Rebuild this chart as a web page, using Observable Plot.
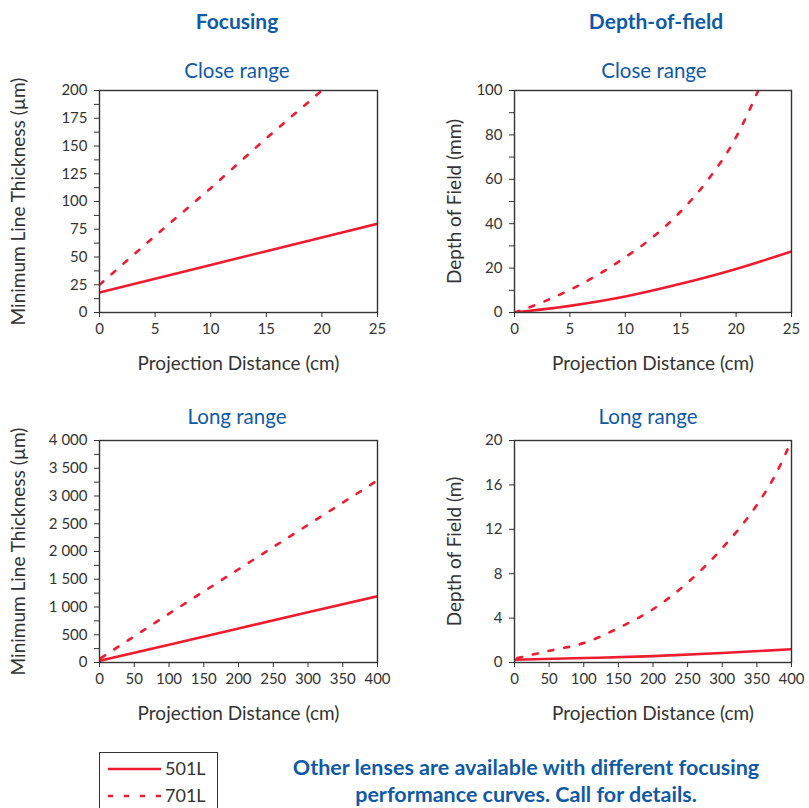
<!DOCTYPE html>
<html>
<head>
<meta charset="utf-8">
<script src="https://cdn.jsdelivr.net/npm/d3@7"></script>
<script src="https://cdn.jsdelivr.net/npm/@observablehq/plot@0.6"></script>
<style>
  html, body { margin: 0; padding: 0; background: #fff; }
  #root { position: relative; width: 809px; height: 808px; overflow: hidden; font-family: Lato, "Open Sans", sans-serif; }
  .panel { position: absolute; }
  .t { position: absolute; color: #0f5aa6; white-space: nowrap; transform: translate(-50%, -50%); }
  .head { font-weight: bold; font-size: 21px; }
  .sub { font-size: 20.5px; }
  #legend { position: absolute; left: 99px; top: 752px; width: 119px; height: 70px; border: 1px solid #333; box-sizing: border-box; }
  #note { position: absolute; left: 526px; top: 781px; transform: translate(-50%, -50%); color: #0f5aa6; font-weight: bold; font-size: 21.5px; text-align: center; line-height: 27px; white-space: nowrap; }
</style>
</head>
<body>
<div id="root">
  <div class="t head" style="left:237px; top:20px;">Focusing</div>
  <div class="t head" style="left:656px; top:20px;">Depth-of-field</div>
  <div class="t sub" style="left:237px; top:70px;">Close range</div>
  <div class="t sub" style="left:654px; top:70px;">Close range</div>
  <div class="t sub" style="left:237px; top:416px;">Long range</div>
  <div class="t sub" style="left:648px; top:416px;">Long range</div>
  <div id="legend"></div>
  <div id="note">Other lenses are available with different focusing<br>performance curves. Call for details.</div>
</div>
<script>
// ---- data ----
const lenses = ["501L", "701L"];
const lensColor = "#ee1c2e";

// Focusing, close range (x: cm, y: µm)
const focCloseX = [0, 5, 10, 15, 20, 25];
const focClose501 = [18, 30.4, 42.8, 55.2, 67.6, 80];
const focClose701X = [0, 5, 10, 15, 20];
const focClose701 = [25, 69, 112, 157, 200];

// Depth-of-field, close range (x: cm, y: mm)
const dofCloseX = [0, 5, 10, 15, 20, 25];
const dofClose501 = [0, 3.0, 7.2, 12.9, 19.6, 27.5];
const dofClose701X = [0, 2.5, 5, 7.5, 10, 12.5, 15, 17.5, 20, 21, 22];
const dofClose701 = [0, 4.6, 10.2, 16.9, 24.9, 34, 45.5, 60, 79, 89, 100];

// Focusing, long range (x: cm, y: µm)
const focLongX = [0, 100, 200, 300, 400];
const focLong501 = [30, 320, 612, 904, 1195];
const focLong701X = [2, 100, 200, 300, 400];
const focLong701 = [80, 880, 1680, 2480, 3280];

// Depth-of-field, long range (x: cm, y: m)
const dofLong501X = [0, 100, 200, 300, 400];
const dofLong501 = [0.25, 0.4, 0.57, 0.85, 1.2];
const dofLong701X = [4, 50, 100, 150, 200, 250, 300, 350, 375, 400];
const dofLong701 = [0.4, 1.05, 1.75, 3.1, 4.8, 7.2, 10.3, 14.2, 16.7, 20];

// tick sets
const closeXTicks = [0, 5, 10, 15, 20, 25];
const longXTicks = [0, 50, 100, 150, 200, 250, 300, 350, 400];
const focCloseYMajor = [0, 25, 50, 75, 100, 125, 150, 175, 200];
const focCloseYAll = d3.range(0, 200.1, 12.5);
const dofCloseYMajor = [0, 20, 40, 60, 80, 100];
const dofCloseYAll = d3.range(0, 100.1, 10);
const focLongYMajor = [0, 500, 1000, 1500, 2000, 2500, 3000, 3500, 4000];
const focLongYAll = d3.range(0, 4000.1, 250);
const dofLongYMajor = [0, 4, 8, 12, 16, 20];

const xLabel = "Projection Distance (cm)";
const yLabels = ["Minimum Line Thickness (µm)", "Depth of Field (mm)", "Minimum Line Thickness (µm)", "Depth of Field (m)"];

function toRows(xs, ys) { return xs.map((x, i) => ({x, y: ys[i]})); }
const spaceFmt = d => d3.format(",")(d).replace(/,/g, " ");

const ink = "#333";
const font = "Lato, 'Open Sans', sans-serif";
const dash = "5,11";

function panel({left, top, width, height, mL, mR, mT, mB, xDomain, yDomain, xTicks, yAll, yMajor, yFmt, s501, s701, curve, yLabel, yLabelOffset}) {
  const majorSet = new Set(yMajor);
  const p = Plot.plot({
    width, height,
    marginLeft: mL, marginRight: mR, marginTop: mT, marginBottom: mB,
    style: {fontFamily: font, fontSize: "15px", color: ink, background: "transparent", overflow: "visible"},
    x: {domain: xDomain},
    y: {domain: yDomain},
    marks: [
      Plot.line(s501, {x: "x", y: "y", stroke: lensColor, strokeWidth: 2.6, curve, clip: true}),
      Plot.line(s701, {x: "x", y: "y", stroke: lensColor, strokeWidth: 2.6, strokeDasharray: dash, curve, clip: true}),
      Plot.frame({stroke: ink, strokeWidth: 1.4}),
      Plot.axisY(yAll, {tickSize: 5, tickPadding: 7, stroke: ink, fill: ink, fontSize: 15,
        tickFormat: d => majorSet.has(d) ? yFmt(d) : "",
        label: yLabel, labelAnchor: "center", labelArrow: "none", labelOffset: yLabelOffset}),
      Plot.axisX(xTicks, {tickSize: 5, tickPadding: 6, stroke: ink, fill: ink, fontSize: 15,
        label: xLabel, labelAnchor: "center", labelArrow: "none", labelOffset: 57})
    ]
  });
  p.querySelectorAll("g[aria-label='y-axis label'] text, g[aria-label='x-axis label'] text").forEach(t => t.setAttribute("font-size", "19"));
  p.classList.add("panel");
  p.style.left = left + "px";
  p.style.top = top + "px";
  document.getElementById("root").appendChild(p);
}

panel({left: 0, top: 40, width: 400, height: 340, mL: 99, mR: 23, mT: 50, mB: 68,
  xDomain: [0, 25], yDomain: [0, 200], xTicks: closeXTicks, yAll: focCloseYAll, yMajor: focCloseYMajor, yFmt: d => String(d),
  s501: toRows(focCloseX, focClose501), s701: toRows(focClose701X, focClose701), curve: "linear", yLabel: yLabels[0], yLabelOffset: 88});

panel({left: 400, top: 40, width: 409, height: 340, mL: 114, mR: 18, mT: 50, mB: 68,
  xDomain: [0, 25], yDomain: [0, 100], xTicks: closeXTicks, yAll: dofCloseYAll, yMajor: dofCloseYMajor, yFmt: d => String(d),
  s501: toRows(dofCloseX, dofClose501), s701: toRows(dofClose701X, dofClose701), curve: "monotone-x", yLabel: yLabels[1], yLabelOffset: 67});

panel({left: 0, top: 390, width: 400, height: 350, mL: 99, mR: 23, mT: 50, mB: 78,
  xDomain: [0, 400], yDomain: [0, 4000], xTicks: longXTicks, yAll: focLongYAll, yMajor: focLongYMajor, yFmt: spaceFmt,
  s501: toRows(focLongX, focLong501), s701: toRows(focLong701X, focLong701), curve: "linear", yLabel: yLabels[2], yLabelOffset: 88});

panel({left: 400, top: 390, width: 409, height: 350, mL: 114, mR: 18, mT: 50, mB: 78,
  xDomain: [0, 400], yDomain: [0, 20], xTicks: longXTicks, yAll: dofLongYMajor, yMajor: dofLongYMajor, yFmt: d => String(d),
  s501: toRows(dofLong501X, dofLong501), s701: toRows(dofLong701X, dofLong701), curve: "monotone-x", yLabel: yLabels[3], yLabelOffset: 67});

// legend
const lg = document.getElementById("legend");
lg.innerHTML = `<svg width="117" height="68" style="position:absolute;left:0;top:0;font-family:${font}">
  <line x1="8" x2="61" y1="16" y2="16" stroke="${lensColor}" stroke-width="2.6"/>
  <text x="65" y="16" dy="0.35em" font-size="18" fill="${ink}">${lenses[0]}</text>
  <line x1="8" x2="61" y1="43" y2="43" stroke="${lensColor}" stroke-width="2.6" stroke-dasharray="${dash}"/>
  <text x="65" y="43" dy="0.35em" font-size="18" fill="${ink}">${lenses[1]}</text>
</svg>`;
</script>
</body>
</html>
